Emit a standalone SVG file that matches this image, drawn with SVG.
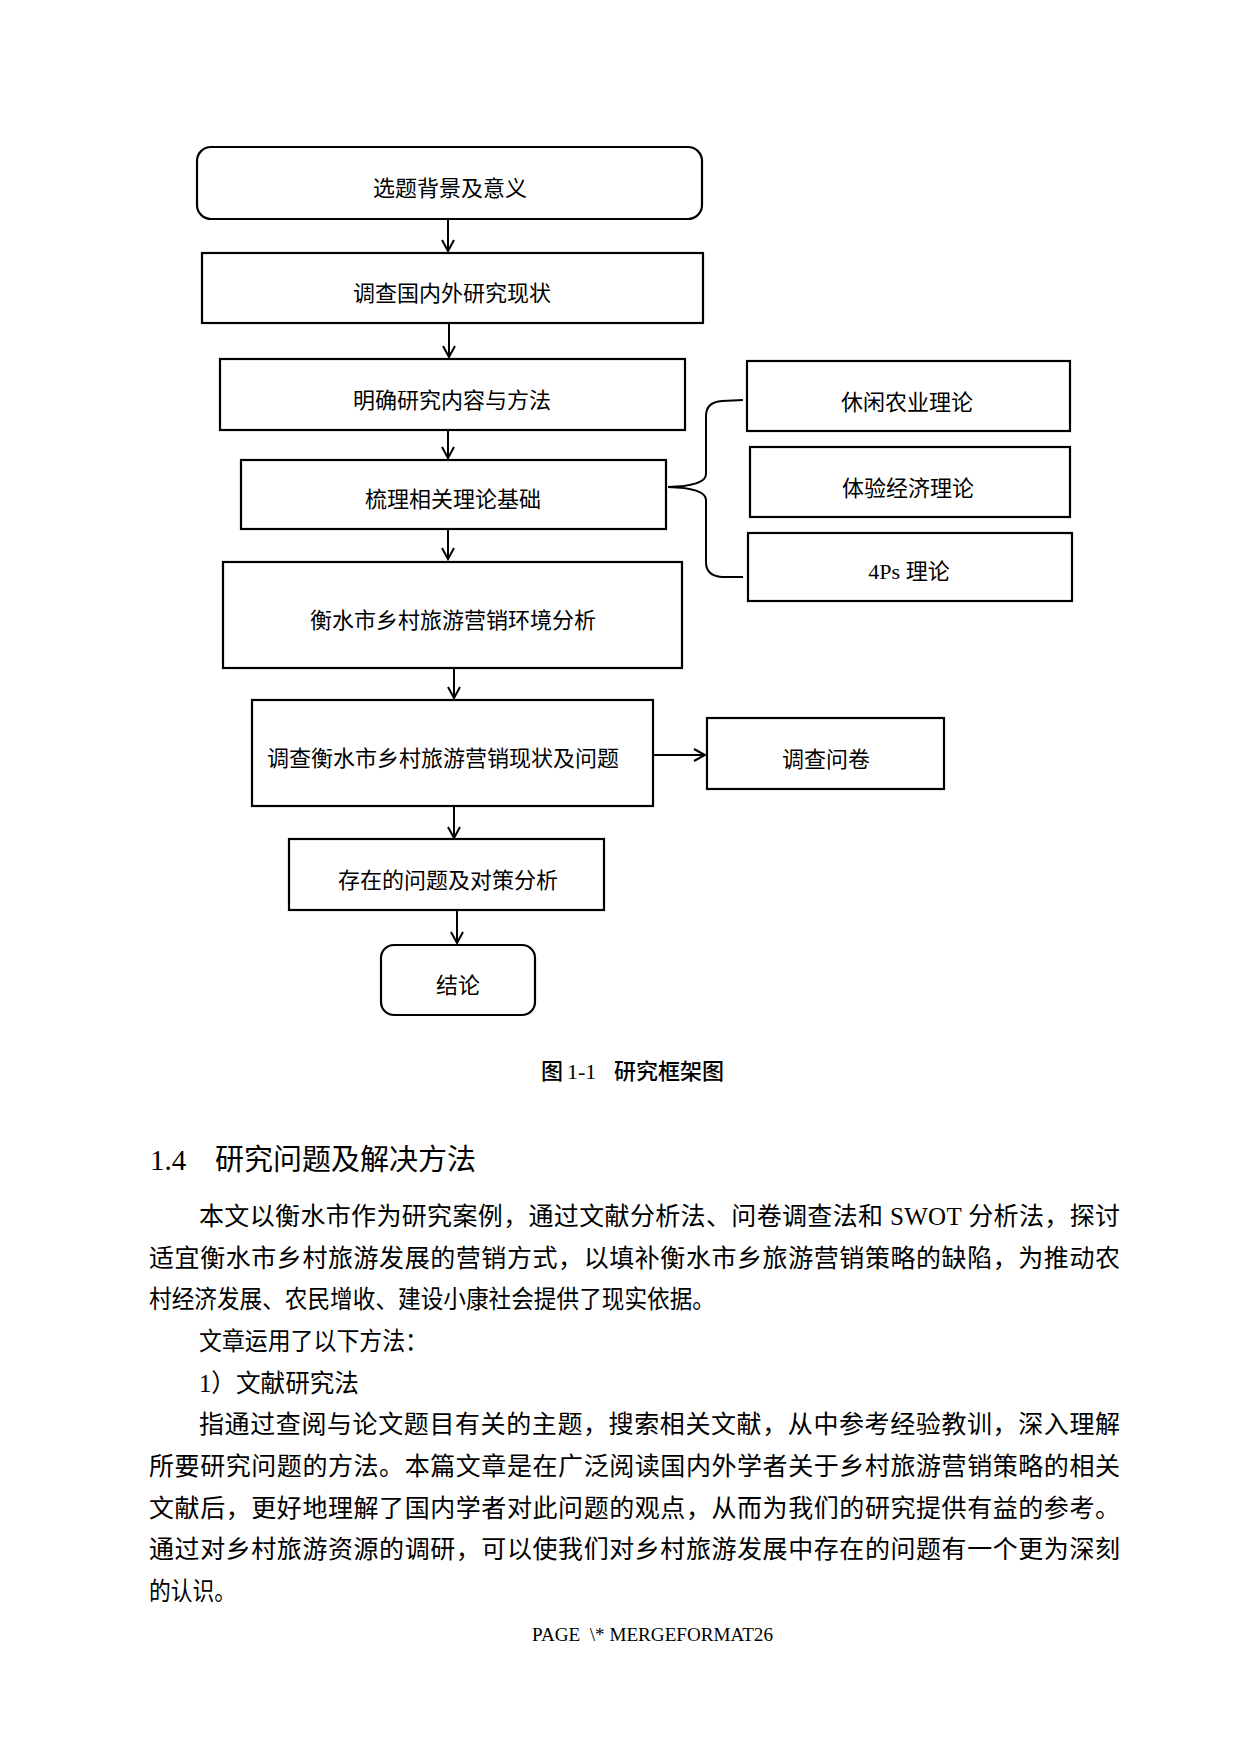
<svg xmlns="http://www.w3.org/2000/svg" width="1240" height="1754" viewBox="0 0 1240 1754">
<defs>
<style>
.bg{fill:#ffffff}
.box{fill:#ffffff;stroke:#000;stroke-width:2.2}
.lbl{font-family:"Liberation Serif","Noto Sans CJK SC",serif;font-size:22px;fill:#000;text-anchor:middle}
.con{fill:none;stroke:#000;stroke-width:2}
.body{font-family:"Liberation Serif","Noto Sans CJK SC",serif;font-size:25px;fill:#000}
.hd{font-family:"Noto Sans CJK SC",sans-serif;font-size:29px;fill:#000}
.hdn{font-family:"Liberation Serif",serif;font-size:29px;fill:#000}
.cap{font-family:"Noto Sans CJK SC",sans-serif;font-size:22px;fill:#000;font-weight:500}
.capn{font-family:"Liberation Serif",serif;font-size:22px;fill:#000}
.foot{font-family:"Liberation Serif",serif;font-size:19px;fill:#000}
</style>
<marker id="arr" viewBox="0 0 14 14" refX="12" refY="7" markerWidth="14" markerHeight="14" markerUnits="userSpaceOnUse" orient="auto">
<path d="M1,1 L12,7 L1,13" fill="none" stroke="#000" stroke-width="2"/>
</marker>
</defs>
<rect class="bg" x="0" y="0" width="1240" height="1754"/>

<g id="connectors">
<line class="con" x1="448" y1="219" x2="448" y2="251" marker-end="url(#arr)"/>
<line class="con" x1="449" y1="323" x2="449" y2="357" marker-end="url(#arr)"/>
<line class="con" x1="448" y1="430" x2="448" y2="458" marker-end="url(#arr)"/>
<line class="con" x1="448" y1="529" x2="448" y2="559" marker-end="url(#arr)"/>
<line class="con" x1="454" y1="668" x2="454" y2="698" marker-end="url(#arr)"/>
<line class="con" x1="653" y1="755" x2="705" y2="755" marker-end="url(#arr)"/>
<line class="con" x1="454" y1="806" x2="454" y2="838" marker-end="url(#arr)"/>
<line class="con" x1="457" y1="910" x2="457" y2="943" marker-end="url(#arr)"/>
<path class="con" d="M743,400 L722,401 Q706,402 706,416 L706,474 Q706,486 668,487 Q706,488 706,500 L706,562 Q706,576 722,577 L743,577"/>
</g>

<g id="n1">
<rect class="box" x="197" y="147" width="505" height="72" rx="14" ry="14"/>
<text class="lbl" x="450" y="196">选题背景及意义</text>
</g>
<g id="n2">
<rect class="box" x="202" y="253" width="501" height="70"/>
<text class="lbl" x="452" y="301">调查国内外研究现状</text>
</g>
<g id="n3">
<rect class="box" x="220" y="359" width="465" height="71"/>
<text class="lbl" x="452" y="408">明确研究内容与方法</text>
</g>
<g id="n4">
<rect class="box" x="241" y="460" width="425" height="69"/>
<text class="lbl" x="453" y="507">梳理相关理论基础</text>
</g>
<g id="n5">
<rect class="box" x="223" y="562" width="459" height="106"/>
<text class="lbl" x="453" y="628">衡水市乡村旅游营销环境分析</text>
</g>
<g id="n6">
<rect class="box" x="252" y="700" width="401" height="106"/>
<text class="lbl" x="443" y="766">调查衡水市乡村旅游营销现状及问题</text>
</g>
<g id="n7">
<rect class="box" x="707" y="718" width="237" height="71"/>
<text class="lbl" x="826" y="767">调查问卷</text>
</g>
<g id="n8">
<rect class="box" x="289" y="839" width="315" height="71"/>
<text class="lbl" x="448" y="888">存在的问题及对策分析</text>
</g>
<g id="n9">
<rect class="box" x="381" y="945" width="154" height="70" rx="13" ry="13"/>
<text class="lbl" x="458" y="993">结论</text>
</g>
<g id="r1">
<rect class="box" x="747" y="361" width="323" height="70"/>
<text class="lbl" x="907" y="410">休闲农业理论</text>
</g>
<g id="r2">
<rect class="box" x="750" y="447" width="320" height="70"/>
<text class="lbl" x="908" y="496">体验经济理论</text>
</g>
<g id="r3">
<rect class="box" x="748" y="533" width="324" height="68"/>
<text class="lbl" x="909" y="579">4Ps 理论</text>
</g>

<g id="caption">
<text y="1079"><tspan class="cap" x="541">图</tspan><tspan class="capn" x="567">1-1</tspan><tspan class="cap" x="614">研究框架图</tspan></text>
</g>

<g id="heading">
<text class="hdn" x="150" y="1170">1.4</text>
<text class="hd" x="215" y="1170">研究问题及解决方法</text>
</g>

<g id="bodytext">
<text class="body" x="199" y="1225" textLength="921" lengthAdjust="spacing">本文以衡水市作为研究案例，通过文献分析法、问卷调查法和 SWOT 分析法，探讨</text>
<text class="body" x="149" y="1267" textLength="971" lengthAdjust="spacing">适宜衡水市乡村旅游发展的营销方式，以填补衡水市乡旅游营销策略的缺陷，为推动农</text>
<text class="body" x="149" y="1308" textLength="566" lengthAdjust="spacingAndGlyphs">村经济发展、农民增收、建设小康社会提供了现实依据。</text>
<text class="body" x="199" y="1350" textLength="229" lengthAdjust="spacingAndGlyphs">文章运用了以下方法：</text>
<text class="body" x="199" y="1392" textLength="160" lengthAdjust="spacingAndGlyphs">1）文献研究法</text>
<text class="body" x="199" y="1433" textLength="921" lengthAdjust="spacing">指通过查阅与论文题目有关的主题，搜索相关文献，从中参考经验教训，深入理解</text>
<text class="body" x="149" y="1475" textLength="971" lengthAdjust="spacing">所要研究问题的方法。本篇文章是在广泛阅读国内外学者关于乡村旅游营销策略的相关</text>
<text class="body" x="149" y="1517" textLength="971" lengthAdjust="spacing">文献后，更好地理解了国内学者对此问题的观点，从而为我们的研究提供有益的参考。</text>
<text class="body" x="149" y="1558" textLength="971" lengthAdjust="spacing">通过对乡村旅游资源的调研，可以使我们对乡村旅游发展中存在的问题有一个更为深刻</text>
<text class="body" x="149" y="1600" textLength="87" lengthAdjust="spacingAndGlyphs">的认识。</text>
</g>

<g id="footer">
<text class="foot" x="532" y="1641" textLength="241" lengthAdjust="spacingAndGlyphs" xml:space="preserve">PAGE  \* MERGEFORMAT26</text>
</g>
</svg>
